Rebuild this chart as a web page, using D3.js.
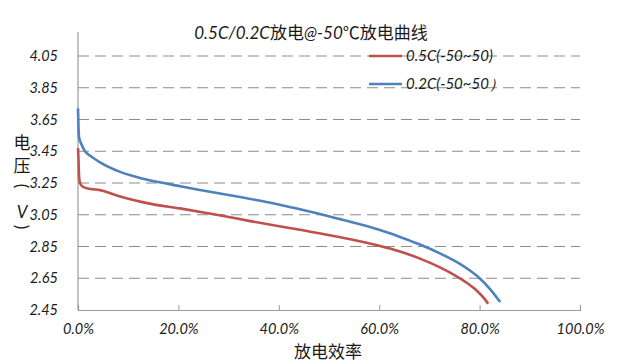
<!DOCTYPE html>
<html>
<head>
<meta charset="utf-8">
<script src="https://cdn.jsdelivr.net/npm/d3@7"></script>
<style>
  body { margin: 0; background: #fff; }
  svg { display: block; }
  .num { font-family: Lato, "Open Sans", sans-serif; font-style: italic; font-size: 14.5px; fill: #1a1a1a; }
  .cjk { font-family: "Noto Sans CJK SC", sans-serif; fill: #1a1a1a; }
</style>
</head>
<body>
<div id="chart"></div>
<script>
var width = 618,
    height = 363,
    margin = {left: 78, right: 38, top: 56, bottom: 53};

// data: discharge efficiency (%) and voltage (V)
var seriesNames = ['0.5C(-50~50)', '0.2C(-50~50）'];
var colours = ['#c0504d', '#4f81bd'];

var redPct = [0, 0.1, 0.2, 0.4, 1, 2.5, 4.4, 6, 8.4, 14.3, 20.3, 27.6, 34.3, 44.2, 52, 60, 64, 68, 72, 75, 77.5, 79.5, 81, 81.7];
var redVolt = [3.47, 3.40, 3.30, 3.25, 3.225, 3.212, 3.205, 3.19, 3.165, 3.12, 3.09, 3.05, 3.01, 2.955, 2.91, 2.855, 2.82, 2.775, 2.72, 2.67, 2.62, 2.57, 2.52, 2.49];

var bluePct = [0, 0.1, 0.2, 0.6, 1.4, 2.5, 4.4, 8.4, 12, 16, 20, 24, 28, 32, 36, 40, 44, 48, 52, 56, 60, 64, 68, 72, 76, 78, 80, 82, 84.1];
var blueVolt = [3.72, 3.60, 3.54, 3.50, 3.45, 3.42, 3.38, 3.32, 3.285, 3.256, 3.232, 3.208, 3.185, 3.163, 3.14, 3.115, 3.086, 3.056, 3.024, 2.991, 2.955, 2.912, 2.864, 2.808, 2.742, 2.70, 2.65, 2.585, 2.50];

var yTicks = [2.45, 2.65, 2.85, 3.05, 3.25, 3.45, 3.65, 3.85, 4.05];
var xTicks = [0, 20, 40, 60, 80, 100];

var svg = d3.select('#chart').append('svg')
    .attr('width', width)
    .attr('height', height);

var x = d3.scaleLinear()
    .domain([0, 100])
    .range([margin.left, width - margin.right]);

var y = d3.scaleLinear()
    .domain([2.45, 4.05])
    .range([height - margin.bottom, margin.top]);

// dashed gridlines
svg.append('g')
  .selectAll('line')
  .data(yTicks.slice(1))
  .enter().append('line')
    .attr('x1', x(0))
    .attr('x2', x(100))
    .attr('y1', function(d) { return y(d); })
    .attr('y2', function(d) { return y(d); })
    .attr('stroke', '#8c8c8c')
    .attr('stroke-width', 1.2)
    .attr('stroke-dasharray', '11,6');

// y labels
svg.append('g')
  .selectAll('text')
  .data(yTicks)
  .enter().append('text')
    .attr('class', 'num')
    .attr('x', 58)
    .attr('y', function(d) { return y(d) + 5; })
    .attr('text-anchor', 'end')
    .text(function(d) { return d.toFixed(2); });

// axes
var xAxis = d3.axisBottom(x)
    .tickValues(xTicks)
    .tickSize(-5)
    .tickFormat(function(d) { return d.toFixed(1) + '%'; });

var gx = svg.append('g')
    .attr('transform', 'translate(0,' + y(2.45) + ')')
    .call(xAxis);
gx.select('.domain').attr('stroke', '#9a9a9a').attr('stroke-width', 1.2);
gx.selectAll('.tick line').attr('stroke', '#9a9a9a');
gx.selectAll('.tick text')
    .attr('class', 'num')
    .attr('y', 14)
    .attr('dy', '0.71em');

svg.append('line')
    .attr('x1', x(0)).attr('x2', x(0))
    .attr('y1', y(4.05) - 24).attr('y2', y(2.45))
    .attr('stroke', '#9a9a9a')
    .attr('stroke-width', 1.2);

// lines
var line = d3.line()
    .x(function(d) { return x(d[0]); })
    .y(function(d) { return y(d[1]); })
    .curve(d3.curveMonotoneX);

var series = [
  d3.zip(redPct, redVolt),
  d3.zip(bluePct, blueVolt)
];

svg.append('g')
  .selectAll('path')
  .data(series)
  .enter().append('path')
    .attr('d', line)
    .attr('fill', 'none')
    .attr('stroke', function(d, i) { return colours[i]; })
    .attr('stroke-width', 2.6);

// legend
var legend = svg.append('g')
  .selectAll('g')
  .data(seriesNames)
  .enter().append('g')
    .attr('transform', function(d, i) { return 'translate(369,' + (56 + i * 28) + ')'; });

legend.append('line')
    .attr('x1', 0).attr('x2', 33)
    .attr('stroke', function(d, i) { return colours[i]; })
    .attr('stroke-width', 2.6);

legend.append('text')
    .attr('class', 'num')
    .attr('x', 37)
    .attr('y', 5)
    .style('font-size', '15px')
    .text(function(d) { return d; });

// title
var title = svg.append('text')
    .attr('x', 311)
    .attr('y', 39)
    .attr('text-anchor', 'middle')
    .style('font-size', '17px');
title.append('tspan').attr('class', 'num').style('font-size', '17px').text('0.5C/0.2C');
title.append('tspan').attr('class', 'cjk').text('放电');
title.append('tspan').attr('class', 'num').style('font-size', '17px').text('@-50');
title.append('tspan').attr('class', 'cjk').text('℃放电曲线');

// axis titles
svg.append('text')
    .attr('class', 'cjk')
    .attr('x', 328)
    .attr('y', 358)
    .attr('text-anchor', 'middle')
    .style('font-size', '17px')
    .text('放电效率');

var yTitle = [
  {t: '电', y: 149, c: 'cjk', r: 0},
  {t: '压', y: 172, c: 'cjk', r: 0},
  {t: '(', y: 186, c: 'num', r: 90},
  {t: 'V', y: 218, c: 'num', r: 0},
  {t: ')', y: 227, c: 'num', r: 90}
];

svg.append('g')
  .selectAll('text')
  .data(yTitle)
  .enter().append('text')
    .attr('class', function(d) { return d.c; })
    .attr('transform', function(d) {
      return 'translate(22,' + d.y + ') rotate(' + d.r + ')';
    })
    .attr('text-anchor', 'middle')
    .attr('dy', function(d) { return d.r ? '0.35em' : 0; })
    .style('font-size', '17px')
    .style('font-style', function(d) { return d.r ? 'normal' : null; })
    .text(function(d) { return d.t; });
</script>
</body>
</html>
